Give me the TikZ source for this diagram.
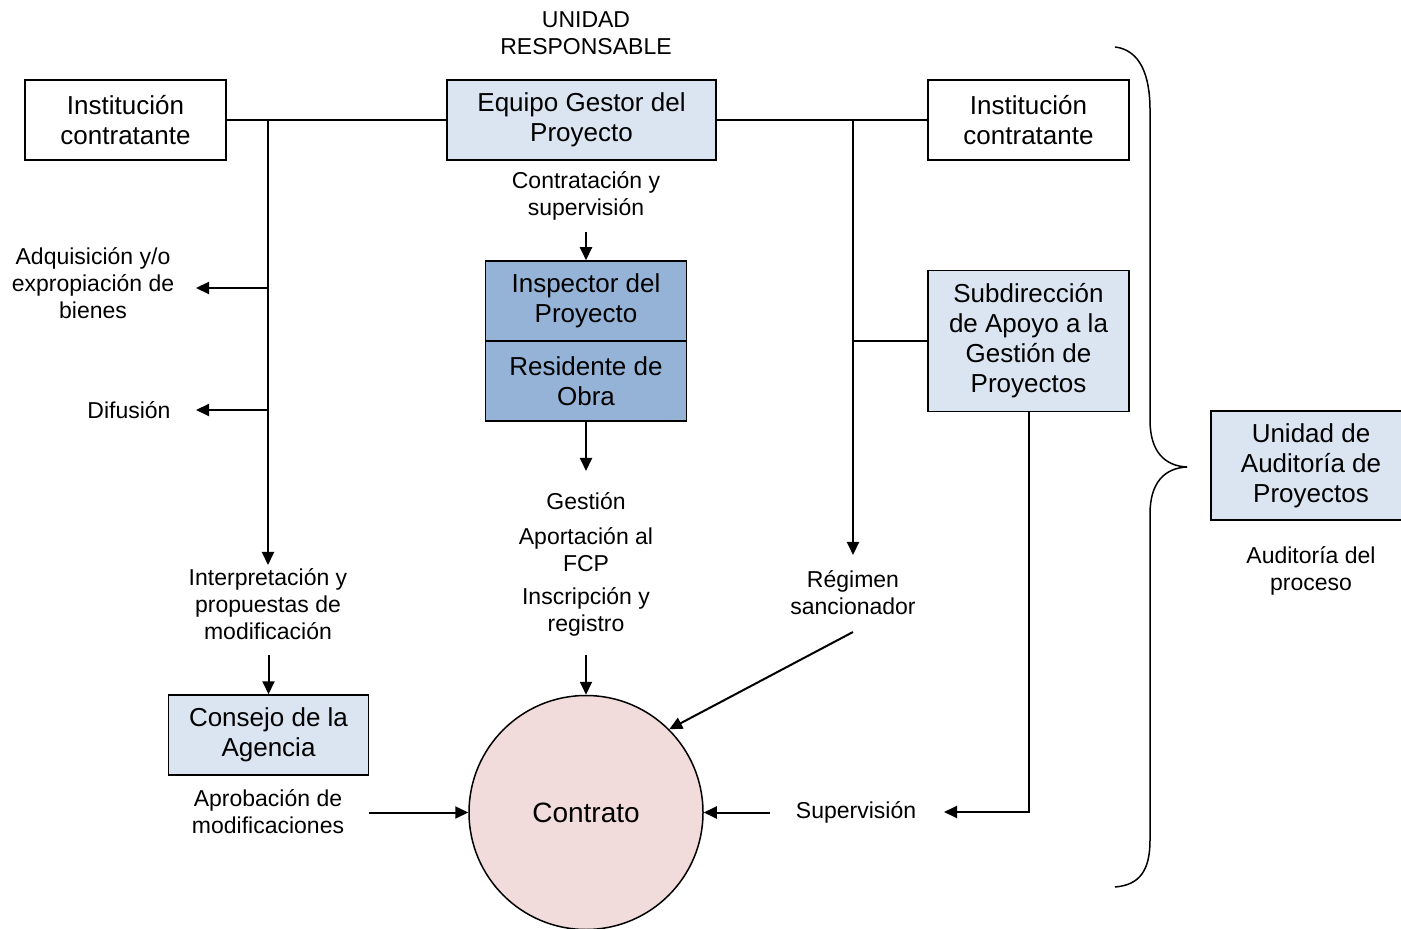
\documentclass[tikz,border=0pt]{standalone}
\usepackage{fontspec}
\setmainfont{Liberation Sans}
\usetikzlibrary{arrows.meta}
\definecolor{lightbox}{HTML}{DBE5F1}
\definecolor{midbox}{HTML}{95B3D7}
\definecolor{contractfill}{HTML}{F2DCDB}

\tikzset{
  box/.style={draw, line width=0.75pt, minimum width=100.5pt, minimum height=40pt,
              align=center, font=\fontsize{13}{15}\selectfont, inner sep=0pt},
  lbl/.style={align=center, font=\fontsize{11.5}{13.5}\selectfont, inner sep=0pt},
  link/.style={line width=1pt},
  arr/.style={line width=1pt, -{Triangle[length=6.5pt,width=6pt]}},
}

\begin{document}
\begin{tikzpicture}[x=0.5pt, y=-0.5pt]
\useasboundingbox (0,0) rectangle (1401,929);

% organisation boxes
\node[box] (instL) at (125.5,120) {Institución\\contratante};
\node[box, fill=lightbox, minimum width=134.5pt] (equipo) at (581.5,120) {Equipo Gestor del\\Proyecto};
\node[box] (instR) at (1028.5,120) {Institución\\contratante};
\node[box, fill=midbox] (inspector) at (586,301) {Inspector del\\Proyecto};
\node[box, fill=midbox] (residente) at (586,381) {Residente de\\Obra};
\node[box, fill=lightbox, minimum height=70.5pt] (subdir) at (1028.5,341)
  {Subdirección\\de Apoyo a la\\Gestión de\\Proyectos};
\node[box, fill=lightbox, minimum width=100pt] (consejo) at (268.5,735) {Consejo de la\\Agencia};
\node[box, fill=lightbox, minimum width=100pt, minimum height=54.5pt] (auditoria) at (1311,465.5)
  {Unidad de\\Auditoría de\\Proyectos};
\node[draw, circle, line width=0.75pt, fill=contractfill, minimum size=117pt, inner sep=0pt,
      font=\fontsize{14}{16}\selectfont] (contrato) at (586,812.5) {Contrato};

% text labels
\node[lbl] (unidad) at (586,33) {UNIDAD\\RESPONSABLE};
\node[lbl] (contsup) at (586,195.5) {Contratación y\\supervisión};
\node[lbl] (adq) at (93,283) {Adquisición y/o\\expropiación de\\bienes};
\node[lbl] (dif) at (129,410) {Difusión};
\node[lbl] (interp) at (268,604) {Interpretación y\\propuestas de\\modificación};
\node[lbl] (aprob) at (268,812) {Aprobación de\\modificaciones};
\node[lbl] (gestion) at (586,501) {Gestión};
\node[lbl] (aport) at (586,549.5) {Aportación al\\FCP};
\node[lbl] (inscr) at (586,611.5) {Inscripción y\\registro};
\node[lbl] (regimen) at (853,593) {Régimen\\sancionador};
\node[lbl] (superv) at (856,812) {Supervisión};
\node[lbl] (audproc) at (1311,570.5) {Auditoría del\\proceso};

% junctions and free connector ends
\coordinate (jL) at (268,120);
\coordinate (jR) at (853,120);
\coordinate (lEnd) at (268,565);
\coordinate (bA) at (268,288);
\coordinate (aTip) at (196,288);
\coordinate (bD) at (268,410);
\coordinate (dTip) at (196,410);
\coordinate (c1) at (268.5,655);
\coordinate (a1) at (369,812.5);
\coordinate (s1) at (586,232);
\coordinate (g1) at (586,471);
\coordinate (r1) at (586,655);
\coordinate (rEnd) at (853,555);
\coordinate (sb) at (853,341);
\coordinate (sCorner) at (1029,812);
\coordinate (supTip) at (944,812);
\coordinate (sv) at (770,812.5);
\coordinate (rg) at (853,632);

% top row links
\draw[link] (instL.east) -- (equipo.west);
\draw[link] (equipo.east) -- (instR.west);

% left branch
\draw[arr] (jL) -- (lEnd);
\draw[arr] (bA) -- (aTip);
\draw[arr] (bD) -- (dTip);
\draw[arr] (c1) -- (consejo.north);
\draw[arr] (a1) -- (contrato.west);

% centre column
\draw[arr] (s1) -- (inspector.north);
\draw[arr] (residente.south) -- (g1);
\draw[arr] (r1) -- (contrato.north);

% right branch
\draw[arr] (jR) -- (rEnd);
\draw[link] (sb) -- (subdir.west);
\draw[arr] (subdir.south -| sCorner) -- (sCorner) -- (supTip);
\draw[arr] (sv) -- (contrato.east);
\draw[arr] (rg) -- (contrato.45);

% curly brace grouping the organisation
\draw[line width=0.75pt]
  (1115,47) .. controls (1140,50) and (1150,75) .. (1150,110)
  -- (1150,420) .. controls (1150,452) and (1165,466) .. (1187,467)
  .. controls (1165,468) and (1150,482) .. (1150,514)
  -- (1150,840) .. controls (1150,870) and (1140,885) .. (1115,887);
\end{tikzpicture}
\end{document}
